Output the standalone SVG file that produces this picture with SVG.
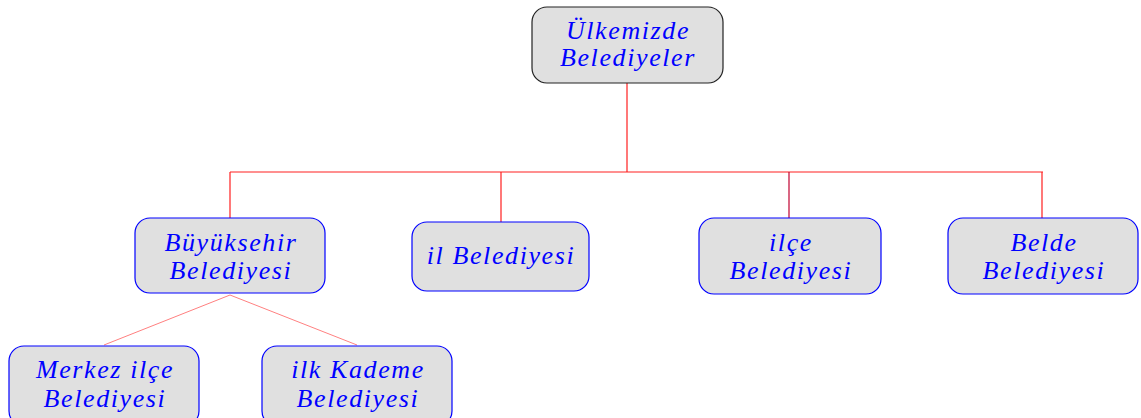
<svg xmlns="http://www.w3.org/2000/svg" width="1141" height="418" viewBox="0 0 1141 418">
<style>
.box{fill:#e0e0e0;stroke:#0000ff;stroke-width:1.2}
.top{fill:#e0e0e0;stroke:#222;stroke-width:1.2}
.c{stroke:#ff2020;stroke-width:1.2;fill:none}
.c2{stroke:#ff8080;stroke-width:1;fill:none}
</style>
<rect width="1141" height="418" fill="#fff"/>
<g id="connectors">
<path class="c" d="M627 83V172M230 172H1043M230 172V218M501 172V222M1042 172V218"/>
<path d="M789 172V218" stroke="#c00030" stroke-width="1.2"/>
<path class="c2" d="M230 295L104 345M230 295L357 345"/>
</g>
<g font-family="Liberation Serif, DejaVu Serif, serif" font-style="italic" font-size="26" fill="#0000ff" text-anchor="middle" letter-spacing="1.6">
<g id="n0"><rect class="top" x="532" y="7" width="191" height="76" rx="15"/>
<text x="628" y="39">Ülkemizde</text><text x="628" y="66">Belediyeler</text></g>
<g id="n1"><rect class="box" x="135" y="218" width="190" height="75" rx="15"/>
<text x="231" y="251">Büyüksehir</text><text x="231" y="279">Belediyesi</text></g>
<g id="n2"><rect class="box" x="412" y="222" width="177" height="69" rx="15"/>
<text x="501" y="264">il Belediyesi</text></g>
<g id="n3"><rect class="box" x="699" y="218" width="182" height="76" rx="15"/>
<text x="791" y="251">ilçe</text><text x="791" y="279">Belediyesi</text></g>
<g id="n4"><rect class="box" x="948" y="218" width="190" height="76" rx="15"/>
<text x="1044" y="251">Belde</text><text x="1044" y="279">Belediyesi</text></g>
<g id="n5"><rect class="box" x="9" y="346" width="190" height="80" rx="15"/>
<text x="105" y="378">Merkez ilçe</text><text x="105" y="407">Belediyesi</text></g>
<g id="n6"><rect class="box" x="262" y="346" width="190" height="80" rx="15"/>
<text x="358" y="378">ilk Kademe</text><text x="358" y="407">Belediyesi</text></g>
</g>
</svg>
